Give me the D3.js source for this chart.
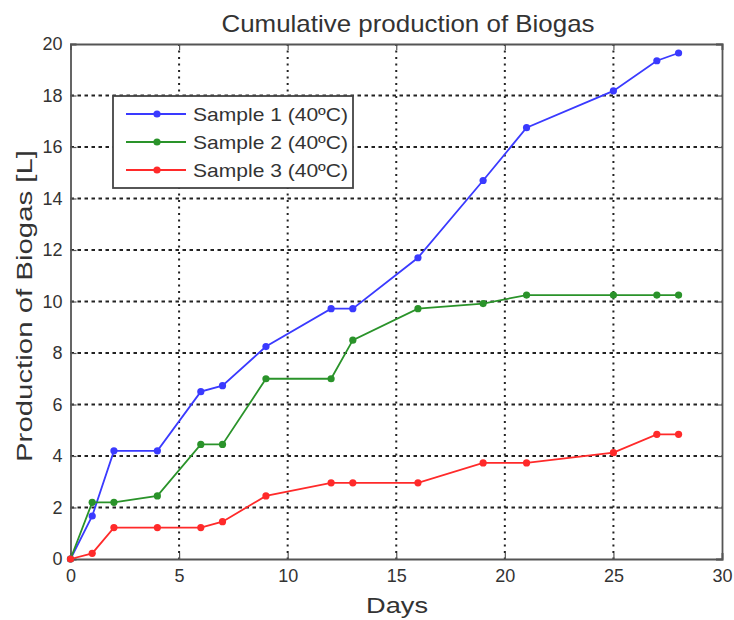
<!DOCTYPE html>
<html><head><meta charset="utf-8">
<script src="https://cdn.jsdelivr.net/npm/d3@7"></script>
<style>body{margin:0;background:#fff}svg{display:block}text{font-family:"Liberation Sans",Arial,sans-serif;fill:#333}</style>
</head><body><svg id="c" width="734" height="620"></svg>
<script>
const days = [0,1,2,4,6,7,9,12,13,16,19,21,25,27,28];
const sample1 = [0,1.67,4.2,4.2,6.5,6.73,8.25,9.72,9.72,11.7,14.7,16.75,18.18,19.35,19.65];
const sample2 = [0,2.2,2.2,2.45,4.45,4.45,7.0,7.0,8.5,9.72,9.92,10.25,10.25,10.25,10.25];
const sample3 = [0,0.22,1.22,1.22,1.22,1.45,2.45,2.96,2.96,2.96,3.73,3.73,4.13,4.84,4.84];
const seriesNames = ["Sample 1 (40ºC)","Sample 2 (40ºC)","Sample 3 (40ºC)"];
const seriesColors = ["#3a3aff","#2a932a","#ff2a2a"];
const xTicks = [0,5,10,15,20,25,30];
const yTicks = [0,2,4,6,8,10,12,14,16,18,20];

const svg = d3.select("#c");
const L=70.5,R=722,T=44,B=559;
const x = d3.scaleLinear().domain([0,30]).range([L,R]);
const y = d3.scaleLinear().domain([0,20]).range([B,T]);

// grid
const g = svg.append("g");
g.selectAll(".vg").data(xTicks.slice(1,-1)).join("line")
  .attr("x1",d=>x(d)).attr("x2",d=>x(d)).attr("y1",T).attr("y2",B)
  .attr("stroke","#222").attr("stroke-width",2).attr("stroke-dasharray","2,4.5");
g.selectAll(".hg").data(yTicks.slice(1,-1)).join("line")
  .attr("y1",d=>y(d)).attr("y2",d=>y(d)).attr("x1",L).attr("x2",R)
  .attr("stroke","#222").attr("stroke-width",2).attr("stroke-dasharray","3.5,3.5");

// axes
const xa = svg.append("g").attr("transform",`translate(0,${B})`)
  .call(d3.axisBottom(x).tickValues(xTicks).tickSize(-6).tickPadding(10).tickFormat(d3.format("d")));
const ya = svg.append("g").attr("transform",`translate(${L},0)`)
  .call(d3.axisLeft(y).tickValues(yTicks).tickSize(-6).tickPadding(8).tickFormat(d3.format("d")));
const xt = svg.append("g").attr("transform",`translate(0,${T})`)
  .call(d3.axisTop(x).tickValues(xTicks).tickSize(-6).tickFormat(""));
const yr = svg.append("g").attr("transform",`translate(${R},0)`)
  .call(d3.axisRight(y).tickValues(yTicks).tickSize(-6).tickFormat(""));
[xa,ya,xt,yr].forEach(a=>{
  a.select(".domain").attr("stroke","#555").attr("stroke-width",1.8);
  a.selectAll(".tick line").attr("stroke","#555").attr("stroke-width",1.2);
  a.selectAll(".tick text").attr("font-size",18).style("fill","#333").attr("font-family","Liberation Sans, Arial, sans-serif");
});

// lines
const allSeries=[sample1,sample2,sample3];
const line = d3.line().x((d,i)=>x(days[i])).y(d=>y(d));
allSeries.forEach((s,k)=>{
  svg.append("path").datum(s).attr("d",line).attr("fill","none")
    .attr("stroke",seriesColors[k]).attr("stroke-width",1.8);
  svg.append("g").selectAll("circle").data(s).join("circle")
    .attr("cx",(d,i)=>x(days[i])).attr("cy",d=>y(d)).attr("r",3.6).attr("fill",seriesColors[k]);
});

// title & labels
svg.append("text").attr("x",408).attr("y",32).attr("text-anchor","middle")
  .attr("font-size",24).attr("textLength",373).attr("lengthAdjust","spacingAndGlyphs")
  .text("Cumulative production of Biogas");
svg.append("text").attr("x",397).attr("y",613).attr("text-anchor","middle")
  .attr("font-size",22).attr("textLength",62).attr("lengthAdjust","spacingAndGlyphs").text("Days");
svg.append("text").attr("transform",`translate(32,306) rotate(-90)`).attr("text-anchor","middle")
  .attr("font-size",22).attr("textLength",312).attr("lengthAdjust","spacingAndGlyphs")
  .text("Production of Biogas [L]");

// legend
const lg = svg.append("g");
lg.append("rect").attr("x",113).attr("y",96).attr("width",240).attr("height",92)
  .attr("fill","#fff").attr("stroke","#444").attr("stroke-width",1.8);
seriesNames.forEach((n,k)=>{
  const yy=114+k*28;
  lg.append("line").attr("x1",126).attr("x2",186).attr("y1",yy).attr("y2",yy)
    .attr("stroke",seriesColors[k]).attr("stroke-width",1.8);
  lg.append("circle").attr("cx",157).attr("cy",yy).attr("r",3.6).attr("fill",seriesColors[k]);
  lg.append("text").attr("x",193).attr("y",yy+7).attr("font-size",19)
    .attr("textLength",155).attr("lengthAdjust","spacingAndGlyphs").text(n);
});
</script></body></html>
